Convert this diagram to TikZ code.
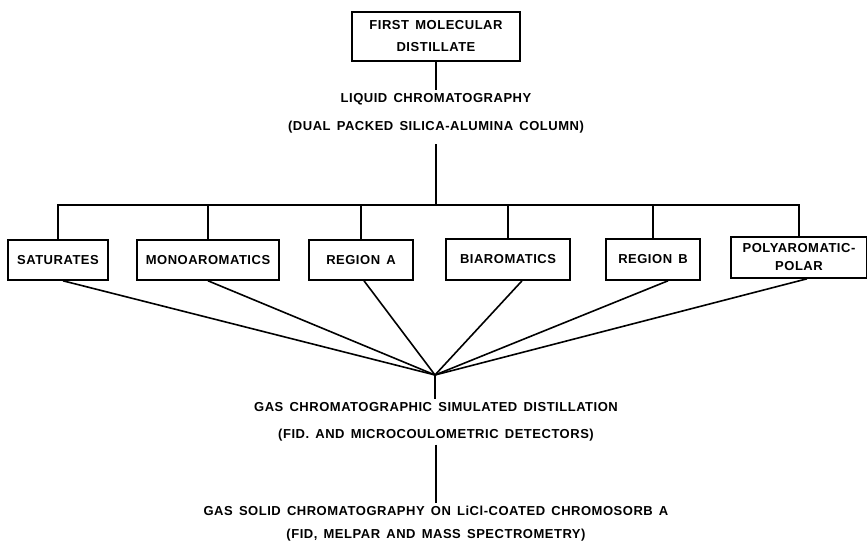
\documentclass[tikz,border=0pt]{standalone}
\usepackage{fontspec}
\newfontfamily\lettering{Liberation Sans}[LetterSpace=4,WordSpace=1.5]

\begin{document}
\begin{tikzpicture}[x=1pt,y=-1pt,
    every node/.style={font=\lettering\bfseries\fontsize{13}{22}\selectfont},
    box/.style={draw,line width=1.6pt,minimum height=40,inner sep=2pt,align=center},
    txt/.style={align=center,inner sep=3pt}]
  \useasboundingbox (0,0) rectangle (867,545);
  \draw
    (436,36.5) node[box,minimum width=168,minimum height=49] (top){FIRST MOLECULAR\\DISTILLATE}
    (436,113) node[txt,font=\lettering\bfseries\fontsize{13}{28}\selectfont] (liq){LIQUID CHROMATOGRAPHY\\(DUAL PACKED SILICA-ALUMINA COLUMN)}
    (58,260) node[box,minimum width=100] (sat){SATURATES}
    (208,260) node[box,minimum width=142] (mono){MONOAROMATICS}
    (361,260) node[box,minimum width=104] (rega){REGION A}
    (508,259.5) node[box,minimum width=124,minimum height=41] (biar){BIAROMATICS}
    (653,259.5) node[box,minimum width=94,minimum height=41] (regb){REGION B}
    (799,257.5) node[box,minimum width=136,minimum height=41,font=\lettering\bfseries\fontsize{13}{18}\selectfont] (poly){POLYAROMATIC-\\POLAR}
    (436,422) node[txt,font=\lettering\bfseries\fontsize{13}{27}\selectfont] (gas){GAS CHROMATOGRAPHIC SIMULATED DISTILLATION\\(FID. AND MICROCOULOMETRIC DETECTORS)}
    (436,523.5) node[txt,font=\lettering\bfseries\fontsize{13}{23}\selectfont] (gsc){GAS SOLID CHROMATOGRAPHY ON LiCl-COATED CHROMOSORB A\\(FID, MELPAR AND MASS SPECTROMETRY)};
  \coordinate (bar) at (436,205);
  \coordinate (hub) at (435,375);
  \begin{scope}[line width=1.6pt]
    \draw (top) to (liq);
    \draw ([yshift=-8pt]liq.south) to (bar);
    \draw (sat.north) |- (bar);
    \draw (poly.north) |- (bar);
    \draw (mono) to (mono |- bar);
    \draw (rega) to (rega |- bar);
    \draw (biar) to (biar |- bar);
    \draw (regb) to (regb |- bar);
    \draw ([xshift=5pt]sat.south) to (hub);
    \draw (mono.south) to (hub);
    \draw ([xshift=3pt]rega.south) to (hub);
    \draw ([xshift=14pt]biar.south) to (hub);
    \draw ([xshift=15pt]regb.south) to (hub);
    \draw ([xshift=8pt]poly.south) to (hub);
    \draw (hub) to (hub |- gas.north);
    \draw (gas) to (gsc);
  \end{scope}
\end{tikzpicture}
\end{document}
